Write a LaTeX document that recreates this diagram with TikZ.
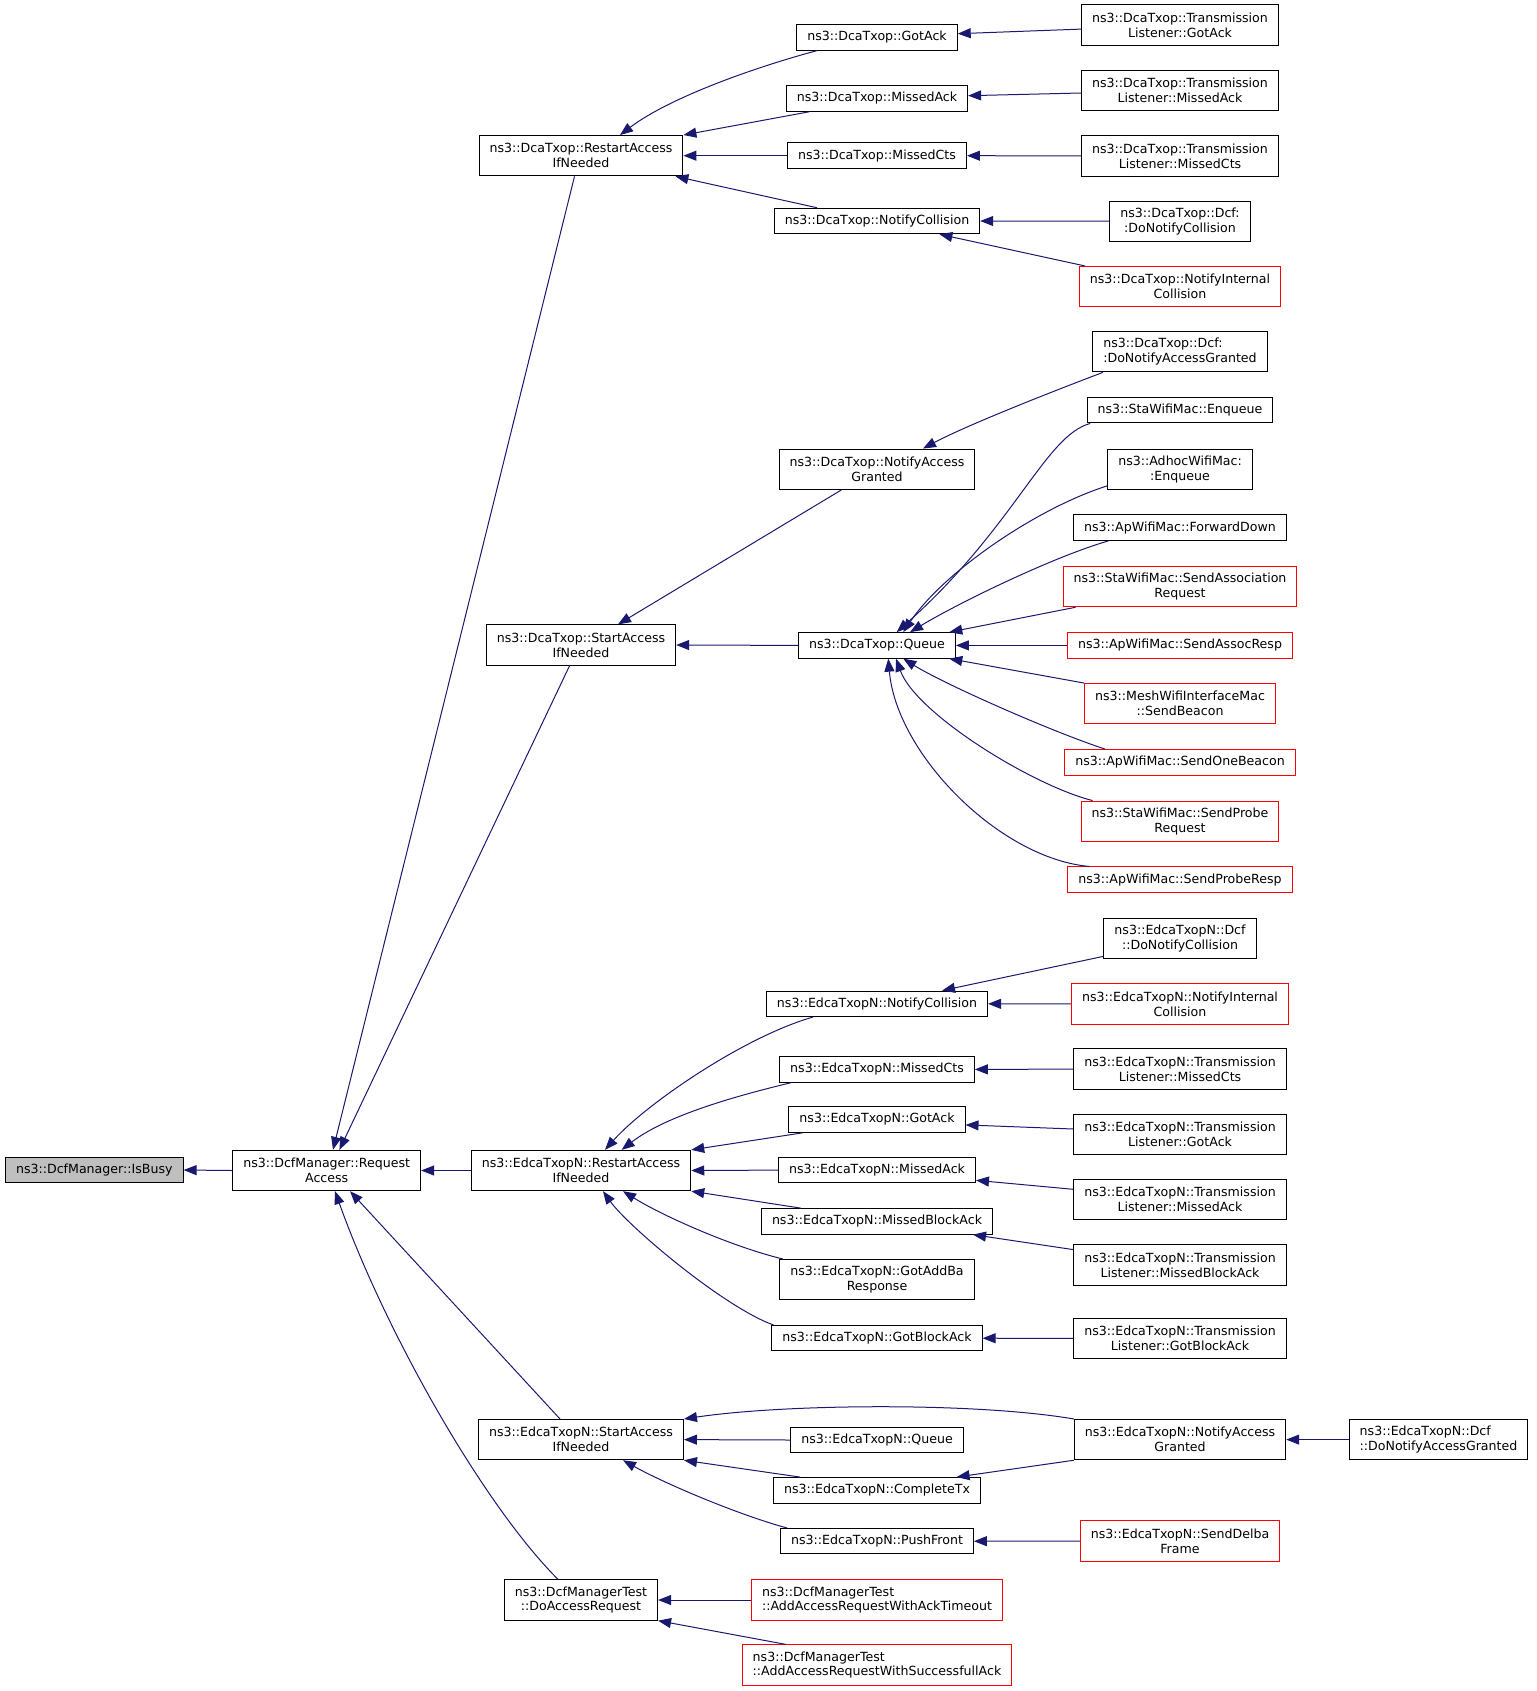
\documentclass[tikz,border=0pt]{standalone}
\usepackage{fontspec}
\setmainfont{DejaVu Sans}
\usetikzlibrary{positioning}
\usetikzlibrary{arrows.meta}
\definecolor{edgeblue}{RGB}{25,25,112}
\definecolor{busygray}{RGB}{191,191,191}
\newcommand{\fnfont}{\fontsize{12.6}{14.9}\selectfont}

\begin{document}
\begin{tikzpicture}[x=1pt, y=-1pt,
			func/.style={draw, rectangle, line width=1pt, font=\fnfont, inner xsep=10.5pt, inner ysep=0pt, minimum height=25.5pt, text height=9.6pt, text depth=3pt},
			functwo/.style={draw, rectangle, line width=1pt, font=\fnfont, inner xsep=10.5pt, inner ysep=0pt, minimum height=40.3pt, align=center},
			redbox/.style={draw=red},
			arrow/.style={->, >={Triangle[length=13pt, width=10pt]}, draw=edgeblue, line width=1pt}
			]
			\useasboundingbox (0,0) rectangle (1536,1691);
			
			% Root and its caller
			\node[func, fill=busygray] (isbusy) at (94.3,1170) {ns3::DcfManager::IsBusy};
			\node[functwo] (reqacc) at (326.7,1170.5) {ns3::DcfManager::Request\\Access};
			
			% Callers of RequestAccess
			\node[functwo] (dcarestart) at (581,155.7) {ns3::DcaTxop::RestartAccess\\IfNeeded};
			\node[functwo] (dcastart) at (581,645) {ns3::DcaTxop::StartAccess\\IfNeeded};
			\node[functwo] (edcarestart) at (581,1170.5) {ns3::EdcaTxopN::RestartAccess\\IfNeeded};
			\node[functwo] (edcastart) at (581,1439.6) {ns3::EdcaTxopN::StartAccess\\IfNeeded};
			\node[functwo] (doaccreq) at (581,1600) {ns3::DcfManagerTest\\::DoAccessRequest};
			
			% DcaTxop callers
			\node[func] (dcagotack) at (877,37.3) {ns3::DcaTxop::GotAck};
			\node[func] (dcamissedack) at (877,98.5) {ns3::DcaTxop::MissedAck};
			\node[func] (dcamissedcts) at (877,155.7) {ns3::DcaTxop::MissedCts};
			\node[func] (dcanotifycoll) at (877,221) {ns3::DcaTxop::NotifyCollision};
			\node[functwo] (dcanotifyacc) at (877,469.2) {ns3::DcaTxop::NotifyAccess\\Granted};
			\node[func] (dcaqueue) at (877,645.4) {ns3::DcaTxop::Queue};
			
			% EdcaTxopN callers
			\node[func] (edcanotifycoll) at (877,1003.8) {ns3::EdcaTxopN::NotifyCollision};
			\node[func] (edcamissedcts) at (877,1069.4) {ns3::EdcaTxopN::MissedCts};
			\node[func] (edcagotack) at (877,1119.6) {ns3::EdcaTxopN::GotAck};
			\node[func] (edcamissedack) at (877,1170.1) {ns3::EdcaTxopN::MissedAck};
			\node[func] (edcamissedback) at (877,1221.4) {ns3::EdcaTxopN::MissedBlockAck};
			\node[functwo] (edcagotaddba) at (877,1279.6) {ns3::EdcaTxopN::GotAddBa\\Response};
			\node[func] (edcagotback) at (877,1338.2) {ns3::EdcaTxopN::GotBlockAck};
			\node[func] (edcaqueue) at (877,1440) {ns3::EdcaTxopN::Queue};
			\node[func] (edcacompletetx) at (877,1490.3) {ns3::EdcaTxopN::CompleteTx};
			\node[func] (edcapushfront) at (877,1541.2) {ns3::EdcaTxopN::PushFront};
			
			% Test callers
			\node[functwo, redbox, align=left] (acktimeout) at (877,1600) {ns3::DcfManagerTest\\::AddAccessRequestWithAckTimeout};
			\node[functwo, redbox, align=left] (successack) at (877,1665) {ns3::DcfManagerTest\\::AddAccessRequestWithSuccessfullAck};
			
			% Outer callers, DcaTxop side
			\node[functwo] (tlgotack) at (1180,24.9) {ns3::DcaTxop::Transmission\\Listener::GotAck};
			\node[functwo] (tlmissedack) at (1180,90.7) {ns3::DcaTxop::Transmission\\Listener::MissedAck};
			\node[functwo] (tlmissedcts) at (1180,155.9) {ns3::DcaTxop::Transmission\\Listener::MissedCts};
			\node[functwo] (dcfdonotifycoll) at (1180,221.2) {ns3::DcaTxop::Dcf:\\:DoNotifyCollision};
			\node[functwo, redbox] (dcanotifyint) at (1180,286.6) {ns3::DcaTxop::NotifyInternal\\Collision};
			\node[functwo, align=left] (dcfdonotifyacc) at (1180,351.7) {ns3::DcaTxop::Dcf:\\:DoNotifyAccessGranted};
			\node[func] (staenqueue) at (1180,410.2) {ns3::StaWifiMac::Enqueue};
			\node[functwo] (adhocenqueue) at (1180,469.2) {ns3::AdhocWifiMac:\\:Enqueue};
			\node[func] (apfwddown) at (1180,527.7) {ns3::ApWifiMac::ForwardDown};
			\node[functwo, redbox] (stasendassoc) at (1180,586.6) {ns3::StaWifiMac::SendAssociation\\Request};
			\node[func, redbox] (apsendassocresp) at (1180,645.4) {ns3::ApWifiMac::SendAssocResp};
			\node[functwo, redbox] (meshsendbeacon) at (1180,703.7) {ns3::MeshWifiInterfaceMac\\::SendBeacon};
			\node[func, redbox] (apsendonebeacon) at (1180,762.4) {ns3::ApWifiMac::SendOneBeacon};
			\node[functwo, redbox] (stasendprobe) at (1180,821.2) {ns3::StaWifiMac::SendProbe\\Request};
			\node[func, redbox] (apsendproberesp) at (1180,879.7) {ns3::ApWifiMac::SendProbeResp};
			
			% Outer callers, EdcaTxopN side
			\node[functwo] (edcadcfnotifycoll) at (1180,938.7) {ns3::EdcaTxopN::Dcf\\::DoNotifyCollision};
			\node[functwo, redbox] (edcanotifyint) at (1180,1003.9) {ns3::EdcaTxopN::NotifyInternal\\Collision};
			\node[functwo] (etlmissedcts) at (1180,1069.1) {ns3::EdcaTxopN::Transmission\\Listener::MissedCts};
			\node[functwo] (etlgotack) at (1180,1134.5) {ns3::EdcaTxopN::Transmission\\Listener::GotAck};
			\node[functwo] (etlmissedack) at (1180,1199.7) {ns3::EdcaTxopN::Transmission\\Listener::MissedAck};
			\node[functwo] (etlmissedback) at (1180,1264.9) {ns3::EdcaTxopN::Transmission\\Listener::MissedBlockAck};
			\node[functwo] (etlgotback) at (1180,1338.4) {ns3::EdcaTxopN::Transmission\\Listener::GotBlockAck};
			\node[functwo] (edcanotifyacc) at (1180,1439.6) {ns3::EdcaTxopN::NotifyAccess\\Granted};
			\node[functwo, redbox] (edcasenddelba) at (1180,1541) {ns3::EdcaTxopN::SendDelba\\Frame};
			\node[functwo, align=left] (edcadcfnotifyacc) at (1438.5,1439.6) {ns3::EdcaTxopN::Dcf\\::DoNotifyAccessGranted};
			
			% Connections into RequestAccess and IsBusy
			\draw[arrow] (reqacc.west) -- (isbusy.east);
			\draw[arrow] ([xshift=-6.5pt]dcarestart.south) -- ([xshift=6.3pt]reqacc.north);
			\draw[arrow] ([xshift=-11.4pt]dcastart.south) -- ([xshift=12.7pt]reqacc.north);
			\draw[arrow] (edcarestart.west) -- (reqacc.east);
			\draw[arrow] ([xshift=-21pt]edcastart.north) -- ([xshift=23.3pt]reqacc.south);
			\draw[arrow] ([xshift=-23pt]doaccreq.north) .. controls +(-75,-75) and +(50,140) .. ([xshift=8.3pt]reqacc.south);
			
			% DcaTxop::RestartAccessIfNeeded
			\draw[arrow] ([xshift=21pt]dcagotack.south west) .. controls +(-60,16) and +(50,-38) .. ([xshift=39pt]dcarestart.north);
			\draw[arrow] ([xshift=23.5pt]dcamissedack.south west) -- (dcarestart.north east);
			\draw[arrow] (dcamissedcts.west) -- (dcarestart.east);
			\draw[arrow] ([xshift=-60pt]dcanotifycoll.north) -- ([xshift=-8pt]dcarestart.south east);
			\draw[arrow] ([yshift=-4.2pt]tlgotack.west) -- ([yshift=3.6pt]dcagotack.east);
			\draw[arrow] ([yshift=-2.3pt]tlmissedack.west) -- ([yshift=2.8pt]dcamissedack.east);
			\draw[arrow] (tlmissedcts.west) -- (dcamissedcts.east);
			\draw[arrow] (dcfdonotifycoll.west) -- (dcanotifycoll.east);
			\draw[arrow] ([xshift=6pt]dcanotifyint.north west) -- ([xshift=62.4pt]dcanotifycoll.south);
			
			% DcaTxop::StartAccessIfNeeded
			\draw[arrow] ([xshift=10.7pt]dcfdonotifyacc.south west) .. controls +(-45,17) and +(45,-24) .. ([xshift=46pt]dcanotifyacc.north);
			\draw[arrow] ([xshift=-35.5pt]dcanotifyacc.south) -- ([xshift=37pt]dcastart.north);
			\draw[arrow] (dcaqueue.west) -- (dcastart.east);
			
			% DcaTxop::Queue
			\draw[arrow] ([xshift=3.6pt]staenqueue.south west) .. controls +(-45,12) and +(118,-105) .. ([xshift=19.7pt]dcaqueue.north);
			\draw[arrow] ([yshift=4pt]adhocenqueue.south west) .. controls +(-70,22) and +(40,-60) .. ([xshift=26.3pt]dcaqueue.north);
			\draw[arrow] ([xshift=35pt]apfwddown.south west) .. controls +(-55,16) and +(50,-30) .. ([xshift=33pt]dcaqueue.north);
			\draw[arrow] ([xshift=13pt]stasendassoc.south west) -- ([xshift=-6.6pt]dcaqueue.north east);
			\draw[arrow] (apsendassocresp.west) -- (dcaqueue.east);
			\draw[arrow] (meshsendbeacon.north west) -- ([xshift=-6.6pt]dcaqueue.south east);
			\draw[arrow] ([xshift=41pt]apsendonebeacon.north west) .. controls +(-55,-18) and +(40,25) .. ([xshift=26.3pt]dcaqueue.south);
			\draw[arrow] ([xshift=12pt]stasendprobe.north west) .. controls +(-60,-15) and +(20,55) .. ([xshift=19pt]dcaqueue.south);
			\draw[arrow] ([xshift=22pt]apsendproberesp.north west) .. controls +(-90,-8) and +(8,95) .. ([xshift=11.3pt]dcaqueue.south);
			
			% EdcaTxopN::RestartAccessIfNeeded
			\draw[arrow] ([yshift=3pt]edcadcfnotifycoll.south west) -- ([xshift=65pt]edcanotifycoll.north);
			\draw[arrow] (edcanotifyint.west) -- (edcanotifycoll.east);
			\draw[arrow] ([xshift=-64pt]edcanotifycoll.south) .. controls +(-70,20) and +(40,-45) .. ([xshift=24pt]edcarestart.north);
			\draw[arrow] ([xshift=12pt]edcamissedcts.south west) .. controls +(-50,12) and +(45,-35) .. ([xshift=40.7pt]edcarestart.north);
			\draw[arrow] ([xshift=14pt]edcagotack.south west) -- (edcarestart.north east);
			\draw[arrow] (edcamissedack.west) -- (edcarestart.east);
			\draw[arrow] ([xshift=-76pt]edcamissedback.north) -- (edcarestart.south east);
			\draw[arrow] ([xshift=3.4pt]edcagotaddba.north west) .. controls +(-50,-12) and +(40,25) .. ([xshift=42pt]edcarestart.south);
			\draw[arrow] ([xshift=2pt]edcagotback.north west) .. controls +(-50,-18) and +(25,35) .. ([xshift=22pt]edcarestart.south);
			\draw[arrow] (etlmissedcts.west) -- (edcamissedcts.east);
			\draw[arrow] ([yshift=5.5pt]etlgotack.west) -- ([yshift=-5.3pt]edcagotack.east);
			\draw[arrow] ([yshift=10.4pt]etlmissedack.west) -- ([yshift=-10.2pt]edcamissedack.east);
			\draw[arrow] ([yshift=15.3pt]etlmissedback.west) -- ([xshift=-20pt]edcamissedback.south east);
			\draw[arrow] (etlgotback.west) -- (edcagotback.east);
			
			% EdcaTxopN::StartAccessIfNeeded
			\draw[arrow] (edcanotifyacc.north west) .. controls +(-100,-17) and +(100,-15) .. (edcastart.north east);
			\draw[arrow] (edcaqueue.west) -- (edcastart.east);
			\draw[arrow] ([xshift=27pt]edcacompletetx.north west) -- (edcastart.south east);
			\draw[arrow] (edcanotifyacc.south west) -- ([xshift=-24.4pt]edcacompletetx.north east);
			\draw[arrow] ([xshift=7pt]edcapushfront.north west) .. controls +(-45,-12) and +(45,25) .. ([xshift=42pt]edcastart.south);
			\draw[arrow] (edcasenddelba.west) -- (edcapushfront.east);
			\draw[arrow] (edcadcfnotifyacc.west) -- (edcanotifyacc.east);
			
			% DcfManagerTest::DoAccessRequest
			\draw[arrow] (acktimeout.west) -- (doaccreq.east);
			\draw[arrow] ([xshift=44pt]successack.north west) -- (doaccreq.south east);
		\end{tikzpicture}
\end{document}
